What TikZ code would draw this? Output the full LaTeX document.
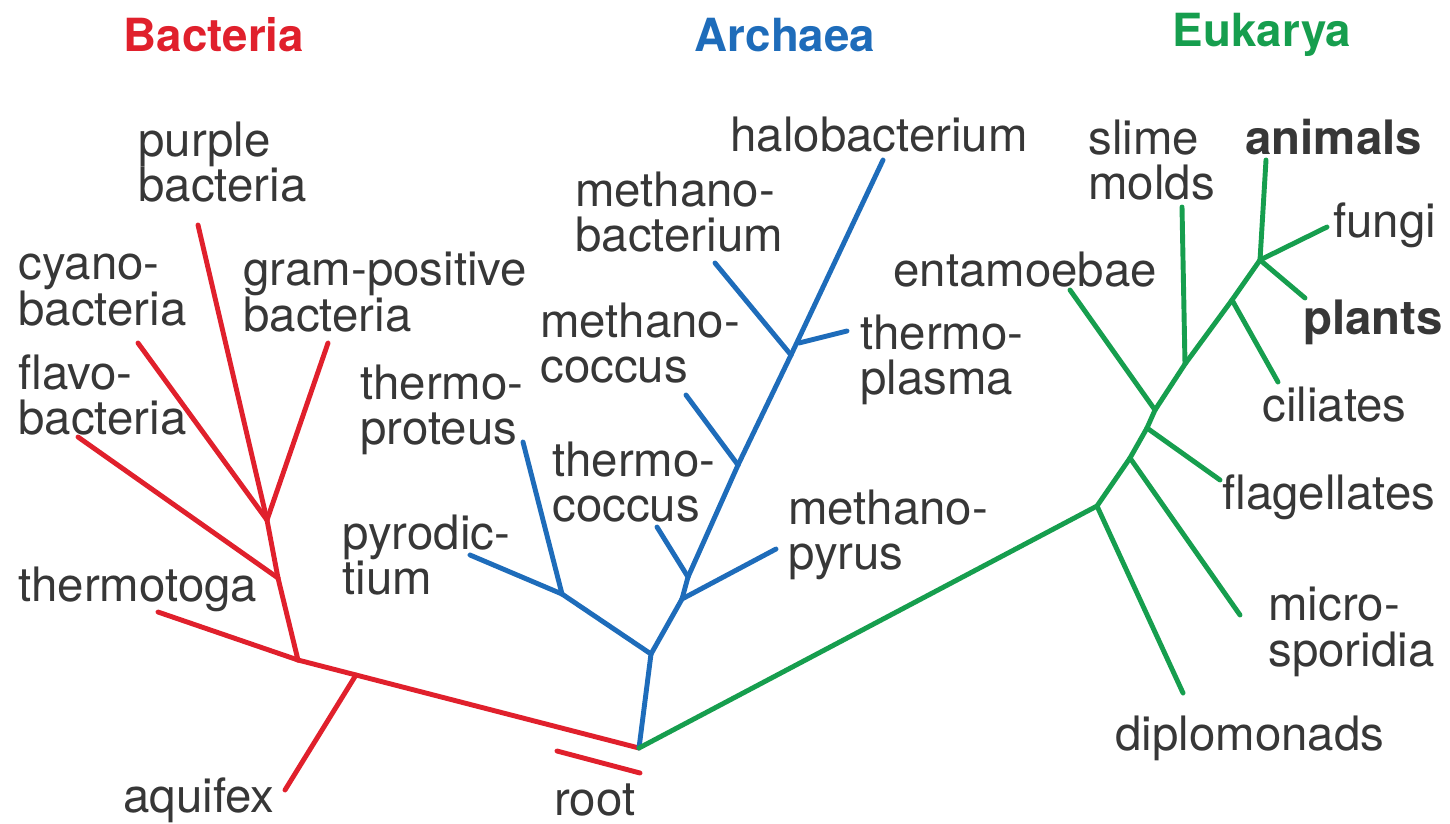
\documentclass[tikz,border=0pt]{standalone}
\usepackage{fontspec}
\setmainfont{TeX Gyre Heros}
\usetikzlibrary{calc}
\definecolor{bactred}{RGB}{224,32,44}
\definecolor{archblue}{RGB}{30,108,186}
\definecolor{eukgreen}{RGB}{22,158,78}
\definecolor{txtgray}{RGB}{55,55,55}

\begin{document}
\begin{tikzpicture}[x=0.02cm,y=-0.02cm,
    redline/.style={draw=bactred,line width=2.8pt,line cap=round},
    blueline/.style={draw=archblue,line width=2.8pt,line cap=round},
    greenline/.style={draw=eukgreen,line width=2.8pt,line cap=round},
    taxon/.style={anchor=west,inner sep=0pt,align=left,text=txtgray,font=\fontsize{27}{26}\selectfont},
    domname/.style={inner sep=0pt,font=\fontsize{26}{30}\selectfont\bfseries}]

  \useasboundingbox (0,0) rectangle (1450,823);

  %%%% Set the coordinates of the tree %%%%
  \coordinate (root) at (639,748);
  \coordinate (rootA) at (557,751);
  \coordinate (rootB) at (640,773);

  %% Bacteria
  \foreach \n/\px/\py in {bJ1/298/660,bJ2/278/578,bJ3/267/520,
      aquifex/285/790,thermotoga/158/612,flavo/78/437,
      cyano/138/343,purple/198/225,grampos/328/343}{
    \coordinate (\n) at (\px,\py);
  }
  \coordinate (bAq) at ($(bJ1)!0.17!(root)$);

  %% Archaea
  \foreach \n/\px/\py in {aJ1/651/654,aJ2/562/594,aJ3/682/599,aJ4/688/577,
      aJ5/738/465,aJ6/791/355,aJ7/799/343,
      pyrodic/470/555,thermoprot/523/442,methpyrus/776/549,
      thermococ/657/527,methcoc/686/395,methbact/715/263,
      thermopl/847/331,halo/883/160}{
    \coordinate (\n) at (\px,\py);
  }

  %% Eukarya
  \foreach \n/\px/\py in {eJ1/1097/506,eJ2/1130/458,eJ3/1147/428,eJ4/1155/410,
      eJ5/1185/364,eJ6/1232/300,eJ7/1260/260,
      diplo/1183/693,microsp/1240/615,flagel/1220/480,entam/1070/290,
      slime/1182/207,ciliat/1278/382,animals/1266/160,fungi/1327/227,plants/1305/298}{
    \coordinate (\n) at (\px,\py);
  }

  %%%% Draw the branches %%%%
  \draw[redline] (rootA) -- (rootB);
  \foreach \a/\b in {root/bJ1,bAq/aquifex,bJ1/thermotoga,bJ1/bJ2,bJ2/flavo,
      bJ2/bJ3,bJ3/cyano,bJ3/purple,bJ3/grampos}{
    \draw[redline] (\a) -- (\b);
  }
  \foreach \a/\b in {root/aJ1,aJ1/aJ2,aJ2/pyrodic,aJ2/thermoprot,aJ1/aJ3,
      aJ3/methpyrus,aJ3/aJ4,aJ4/thermococ,aJ4/aJ5,aJ5/methcoc,aJ5/aJ6,
      aJ6/methbact,aJ6/halo,aJ7/thermopl}{
    \draw[blueline] (\a) -- (\b);
  }
  \foreach \a/\b in {root/eJ1,eJ1/diplo,eJ1/eJ2,eJ2/microsp,eJ2/eJ3,eJ3/flagel,
      eJ3/eJ4,eJ4/entam,eJ4/eJ5,eJ5/slime,eJ5/eJ6,eJ6/ciliat,eJ6/eJ7,
      eJ7/animals,eJ7/fungi,eJ7/plants}{
    \draw[greenline] (\a) -- (\b);
  }

  %%%% Names of the three domains %%%%
  \node[domname,text=bactred] (dBact) at (214,35) {Bacteria};
  \node[domname,text=archblue] (dArch) at (785,35) {Archaea};
  \node[domname,text=eukgreen] (dEuk) at (1262,35) {Eukarya};

  %%%% Labels of the leaves %%%%
  \foreach \n/\px/\py/\txt in {purple/138/162/{purple\\bacteria},
      cyano/18/290/{cyano-\\bacteria},
      grampos/243/292/{gram-positive\\bacteria},
      flavo/18/395/{flavo-\\bacteria},
      thermotoga/18/589/{thermotoga},
      aquifex/123/800/{aquifex},
      root/554/800/{root},
      pyrodic/342/555/{pyrodic-\\tium},
      thermoprot/360/410/{thermo-\\proteus},
      thermococ/552/482/{thermo-\\coccus},
      methcoc/540/343/{methano-\\coccus},
      methbact/575/212/{methano-\\bacterium},
      halo/730/135/{halobacterium},
      thermopl/860/360/{thermo-\\plasma},
      methpyrus/788/535/{methano-\\pyrus},
      entam/893/270/{entamoebae},
      slime/1088/160/{slime\\molds},
      animals/1245/137/{\textbf{animals}},
      fungi/1333/225/{fungi},
      plants/1303/322/{\textbf{plants}},
      ciliat/1262/405/{ciliates},
      flagel/1222/497/{flagellates},
      microsp/1268/632/{micro-\\sporidia},
      diplo/1115/738/{diplomonads}}{
    \node[taxon] (l-\n) at (\px,\py) {\txt};
  }

\end{tikzpicture}
\end{document}
